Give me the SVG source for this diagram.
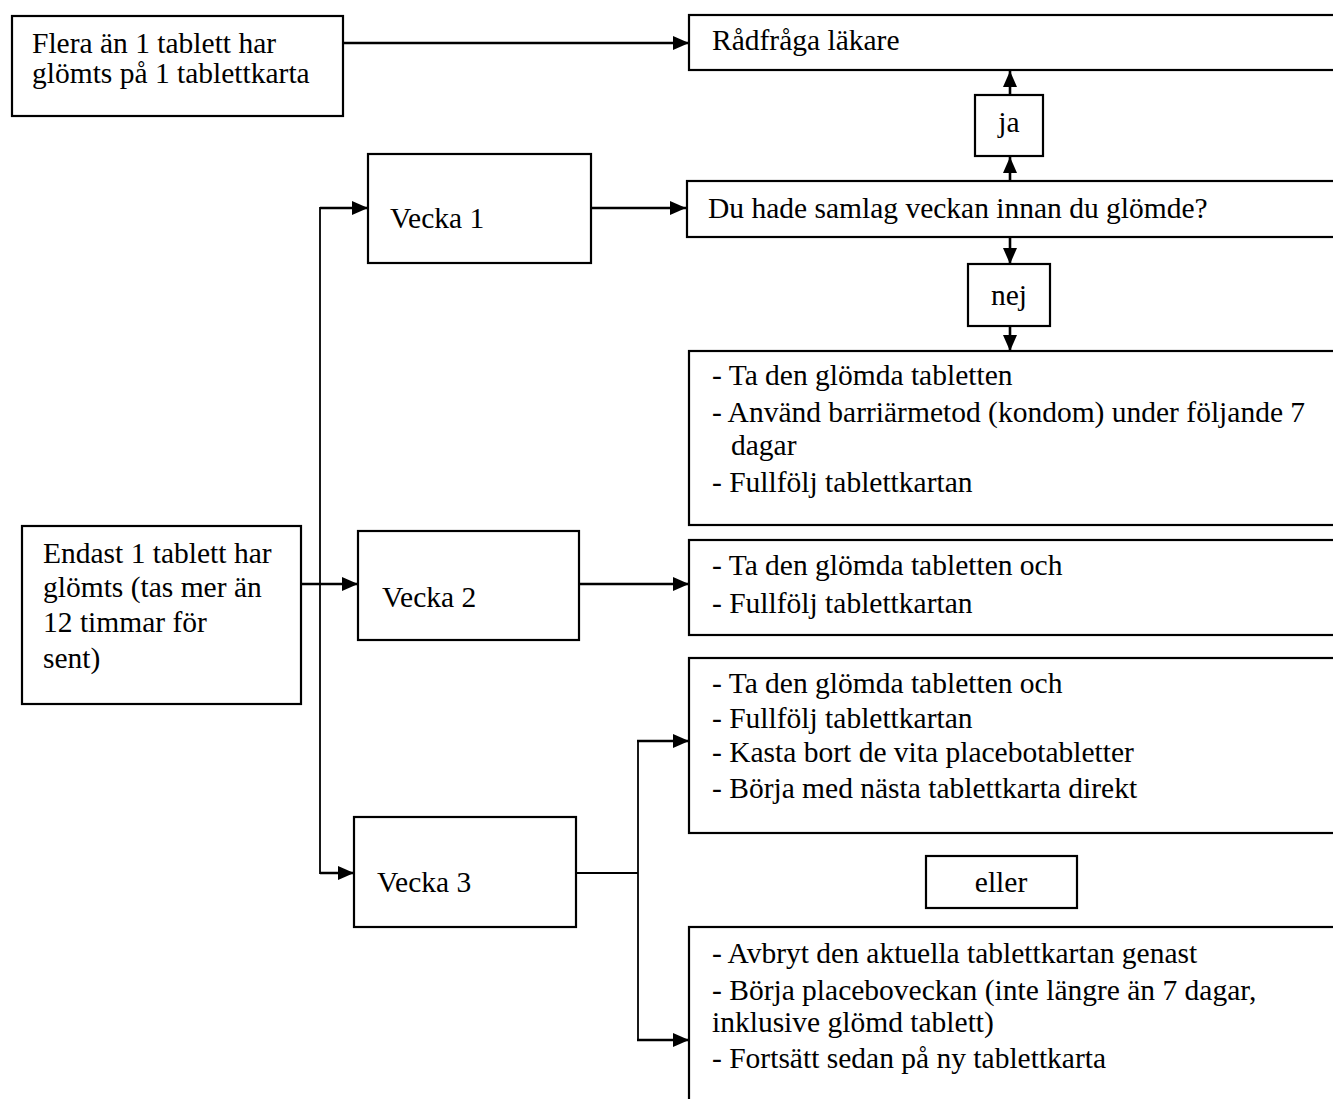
<svg xmlns="http://www.w3.org/2000/svg" width="1333" height="1099" viewBox="0 0 1333 1099">
<style>
.box{fill:#fff;stroke:#000;stroke-width:2.2}
.t{font-family:"Liberation Serif","Times New Roman",serif;font-size:29.5px;fill:#000}
.c{fill:none;stroke:#000;stroke-width:2.6}
.thin{fill:none;stroke:#000;stroke-width:1.8}
</style>
<defs>
<marker id="ah" markerUnits="userSpaceOnUse" markerWidth="17" markerHeight="15" refX="16" refY="7" orient="auto">
<path d="M0,0 L16,7 L0,14 z" fill="#000"/>
</marker>
</defs>
<rect width="1333" height="1099" fill="#fff"/>
<g id="connectors">
<line class="c" x1="343" y1="43" x2="689" y2="43" marker-end="url(#ah)"/>
<line class="c" x1="1010" y1="95" x2="1010" y2="71" marker-end="url(#ah)"/>
<line class="c" x1="1010" y1="181" x2="1010" y2="157" marker-end="url(#ah)"/>
<line class="c" x1="1010" y1="237" x2="1010" y2="264" marker-end="url(#ah)"/>
<line class="c" x1="1010" y1="326" x2="1010" y2="351" marker-end="url(#ah)"/>
<line class="c" x1="591" y1="208" x2="686" y2="208" marker-end="url(#ah)"/>
<polyline class="thin" points="368,208 320,208 320,873 354,873"/>
<line class="c" x1="320" y1="208" x2="368" y2="208" marker-end="url(#ah)"/>
<line class="c" x1="320" y1="873" x2="354" y2="873" marker-end="url(#ah)"/>
<line class="c" x1="301" y1="584" x2="358" y2="584" marker-end="url(#ah)"/>
<line class="c" x1="579" y1="584" x2="689" y2="584" marker-end="url(#ah)"/>
<line class="thin" x1="576" y1="873" x2="638" y2="873"/>
<line class="thin" x1="638" y1="741" x2="638" y2="1040"/>
<line class="c" x1="637" y1="741" x2="689" y2="741" marker-end="url(#ah)"/>
<line class="c" x1="637" y1="1040" x2="689" y2="1040" marker-end="url(#ah)"/>
</g>
<g id="n-flera">
<rect class="box" x="12" y="16" width="331" height="100"/>
<text class="t" x="32" y="53">Flera än 1 tablett har</text>
<text class="t" x="32" y="83">glömts  på 1 tablettkarta</text>
</g>
<g id="n-radfraga">
<rect class="box" x="689" y="15" width="660" height="55"/>
<text class="t" x="712" y="50">Rådfråga läkare</text>
</g>
<g id="n-ja">
<rect class="box" x="975" y="95" width="68" height="61"/>
<text class="t" x="1009" y="132" text-anchor="middle">ja</text>
</g>
<g id="n-duhade">
<rect class="box" x="687" y="181" width="660" height="56"/>
<text class="t" x="708" y="218">Du hade samlag veckan innan du glömde?</text>
</g>
<g id="n-nej">
<rect class="box" x="968" y="264" width="82" height="62"/>
<text class="t" x="1009" y="305" text-anchor="middle">nej</text>
</g>
<g id="n-vecka1">
<rect class="box" x="368" y="154" width="223" height="109"/>
<text class="t" x="390" y="228">Vecka 1</text>
</g>
<g id="n-vecka1-action">
<rect class="box" x="689" y="351" width="660" height="174"/>
<text class="t" x="712" y="385">- Ta den glömda  tabletten</text>
<text class="t" x="712" y="422">- Använd barriärmetod (kondom)  under följande 7</text>
<text class="t" x="731" y="455">dagar</text>
<text class="t" x="712" y="492">- Fullfölj  tablettkartan</text>
</g>
<g id="n-endast">
<rect class="box" x="22" y="526" width="279" height="178"/>
<text class="t" x="43" y="563">Endast 1 tablett har</text>
<text class="t" x="43" y="597">glömts  (tas mer än</text>
<text class="t" x="43" y="632">12 timmar  för</text>
<text class="t" x="43" y="668">sent)</text>
</g>
<g id="n-vecka2">
<rect class="box" x="358" y="531" width="221" height="109"/>
<text class="t" x="382" y="607">Vecka 2</text>
</g>
<g id="n-vecka2-action">
<rect class="box" x="689" y="540" width="660" height="95"/>
<text class="t" x="712" y="575">- Ta den glömda  tabletten och</text>
<text class="t" x="712" y="613">- Fullfölj  tablettkartan</text>
</g>
<g id="n-vecka3">
<rect class="box" x="354" y="817" width="222" height="110"/>
<text class="t" x="377" y="892">Vecka 3</text>
</g>
<g id="n-vecka3-a">
<rect class="box" x="689" y="658" width="660" height="175"/>
<text class="t" x="712" y="693">- Ta den glömda  tabletten och</text>
<text class="t" x="712" y="728">- Fullfölj  tablettkartan</text>
<text class="t" x="712" y="762">- Kasta bort de vita  placebotabletter</text>
<text class="t" x="712" y="798">- Börja med nästa tablettkarta direkt</text>
</g>
<g id="n-eller">
<rect class="box" x="926" y="856" width="151" height="52"/>
<text class="t" x="1001" y="892" text-anchor="middle">eller</text>
</g>
<g id="n-vecka3-b">
<rect class="box" x="689" y="927" width="660" height="190"/>
<text class="t" x="712" y="963">- Avbryt den aktuella  tablettkartan genast</text>
<text class="t" x="712" y="1000">- Börja placeboveckan (inte längre än 7 dagar,</text>
<text class="t" x="712" y="1032">inklusive  glömd  tablett)</text>
<text class="t" x="712" y="1068">- Fortsätt sedan på ny tablettkarta</text>
</g>
</svg>
